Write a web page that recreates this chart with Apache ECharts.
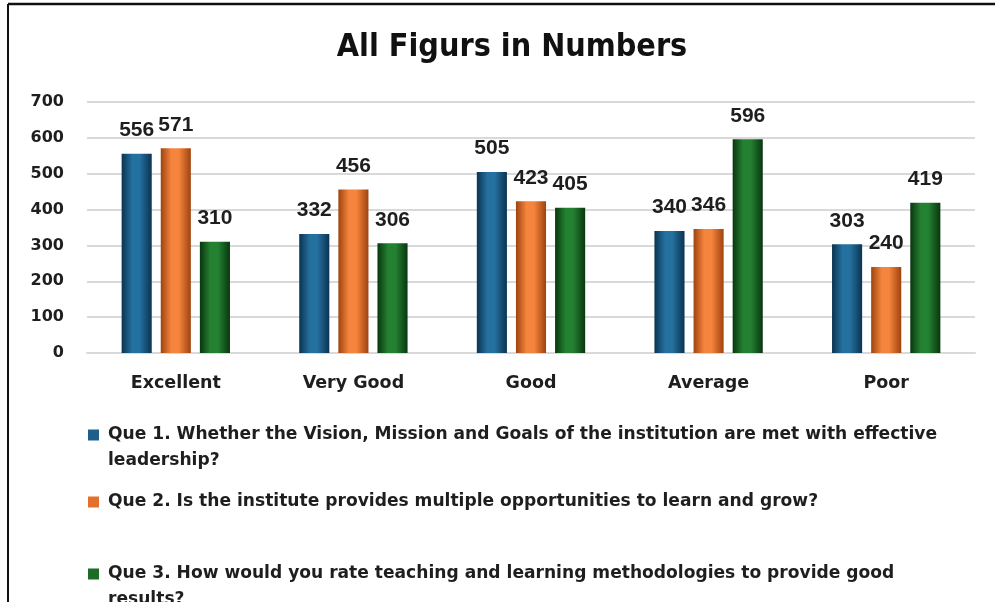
<!DOCTYPE html>
<html>
<head>
<meta charset="utf-8">
<script src="https://cdn.jsdelivr.net/npm/echarts@6/dist/echarts.min.js"></script>
<style>
html,body{margin:0;padding:0;background:#fff;}
#chart{width:995px;height:602px;}
</style>
</head>
<body>
<div id="chart"></div>
<script>
const titleText = 'All Figurs in Numbers';
const categories = ['Excellent', 'Very Good', 'Good', 'Average', 'Poor'];
const seriesNames = [
  'Que 1. Whether the Vision, Mission and Goals of the institution are met with effective leadership?',
  'Que 2. Is the institute provides multiple opportunities to learn and grow?',
  'Que 3. How would you rate teaching and learning methodologies to provide good results?'
];
const legendLines = [
  'Que 1. Whether the Vision, Mission and Goals of the institution are met with effective\nleadership?',
  'Que 2. Is the institute provides multiple opportunities to learn and grow?',
  'Que 3. How would you rate teaching and learning methodologies to provide good\nresults?'
];
const que1 = [556, 332, 505, 340, 303];
const que2 = [571, 456, 423, 346, 240];
const que3 = [310, 306, 405, 596, 419];
const yTicks = [0, 100, 200, 300, 400, 500, 600, 700];

const palettes = [
  { edge: '#0b3350', mid: '#24709f', base: '#1d5f8a' },
  { edge: '#9e430f', mid: '#f5843c', base: '#e4702d' },
  { edge: '#09360f', mid: '#248131', base: '#1c6b27' }
];
function grad(p) {
  return new echarts.graphic.LinearGradient(0, 0, 1, 0, [
    { offset: 0, color: p.edge },
    { offset: 0.35, color: p.mid },
    { offset: 0.6, color: p.mid },
    { offset: 1, color: p.edge }
  ]);
}

const numFont = "'Liberation Sans', Arial, sans-serif";
const wideFont = "'DejaVu Sans', 'Noto Sans', sans-serif";

const chart = echarts.init(document.getElementById('chart'), null, { renderer: 'canvas' });
const allData = [que1, que2, que3];

const LH = 26;
const legendTops = [422, 489, 561];
const legends = seriesNames.map((n, i) => {
  const twoLine = legendLines[i].indexOf('\n') >= 0;
  return {
    data: [{ name: n, itemStyle: { color: palettes[i].base } }],
    orient: 'vertical',
    left: 88,
    top: legendTops[i],
    padding: 0,
    icon: twoLine ? 'path://M0,0H11V11H0Z M15,37' : 'path://M0,0H11V11H0Z M15,11',
    itemWidth: 15,
    itemHeight: twoLine ? 37 : 11,
    itemGap: 0,
    selectedMode: false,
    formatter: () => legendLines[i],
    textStyle: {
      fontFamily: wideFont,
      fontWeight: 'bold',
      fontSize: 17.1,
      color: '#1e1e1e',
      lineHeight: LH
    }
  };
});

chart.setOption({
  animation: false,
  backgroundColor: '#ffffff',
  color: palettes.map(p => p.base),
  title: {
    text: titleText,
    left: 507,
    top: 27,
    textAlign: 'center',
    textStyle: {
      fontFamily: "'Liberation Sans Narrow', 'DejaVu Sans Condensed', sans-serif",
      fontWeight: 'bold',
      fontSize: 32,
      color: '#111'
    }
  },
  legend: legends,
  grid: { left: 87, right: 20, top: 102, bottom: 249, containLabel: false },
  xAxis: {
    type: 'category',
    data: categories,
    axisLine: { show: true, lineStyle: { color: '#d9d9d9', width: 2 } },
    axisTick: { show: false },
    axisLabel: {
      margin: 21,
      fontFamily: wideFont,
      fontWeight: 'bold',
      fontSize: 17.5,
      color: '#1e1e1e'
    }
  },
  yAxis: {
    type: 'value',
    min: yTicks[0],
    max: yTicks[yTicks.length - 1],
    interval: 100,
    axisLine: { show: false },
    axisTick: { show: false },
    splitLine: { lineStyle: { color: '#d9d9d9', width: 2 } },
    axisLabel: {
      margin: 23,
      fontFamily: wideFont,
      fontWeight: 'bold',
      fontSize: 16,
      color: '#1e1e1e'
    }
  },
  series: seriesNames.map((n, i) => ({
    name: n,
    type: 'bar',
    data: allData[i],
    barGap: '30%',
    barCategoryGap: '39%',
    itemStyle: { color: grad(palettes[i]) },
    label: {
      show: true,
      position: 'top',
      distance: 13,
      fontFamily: numFont,
      fontWeight: 'bold',
      fontSize: 21,
      color: '#1e1e1e'
    }
  })),
  graphic: [
    { type: 'line', shape: { x1: 8, y1: 4, x2: 995, y2: 4 }, style: { stroke: '#111', lineWidth: 2.5 } },
    { type: 'line', shape: { x1: 8, y1: 4, x2: 8, y2: 602 }, style: { stroke: '#111', lineWidth: 2 } }
  ]
});
</script>
</body>
</html>
